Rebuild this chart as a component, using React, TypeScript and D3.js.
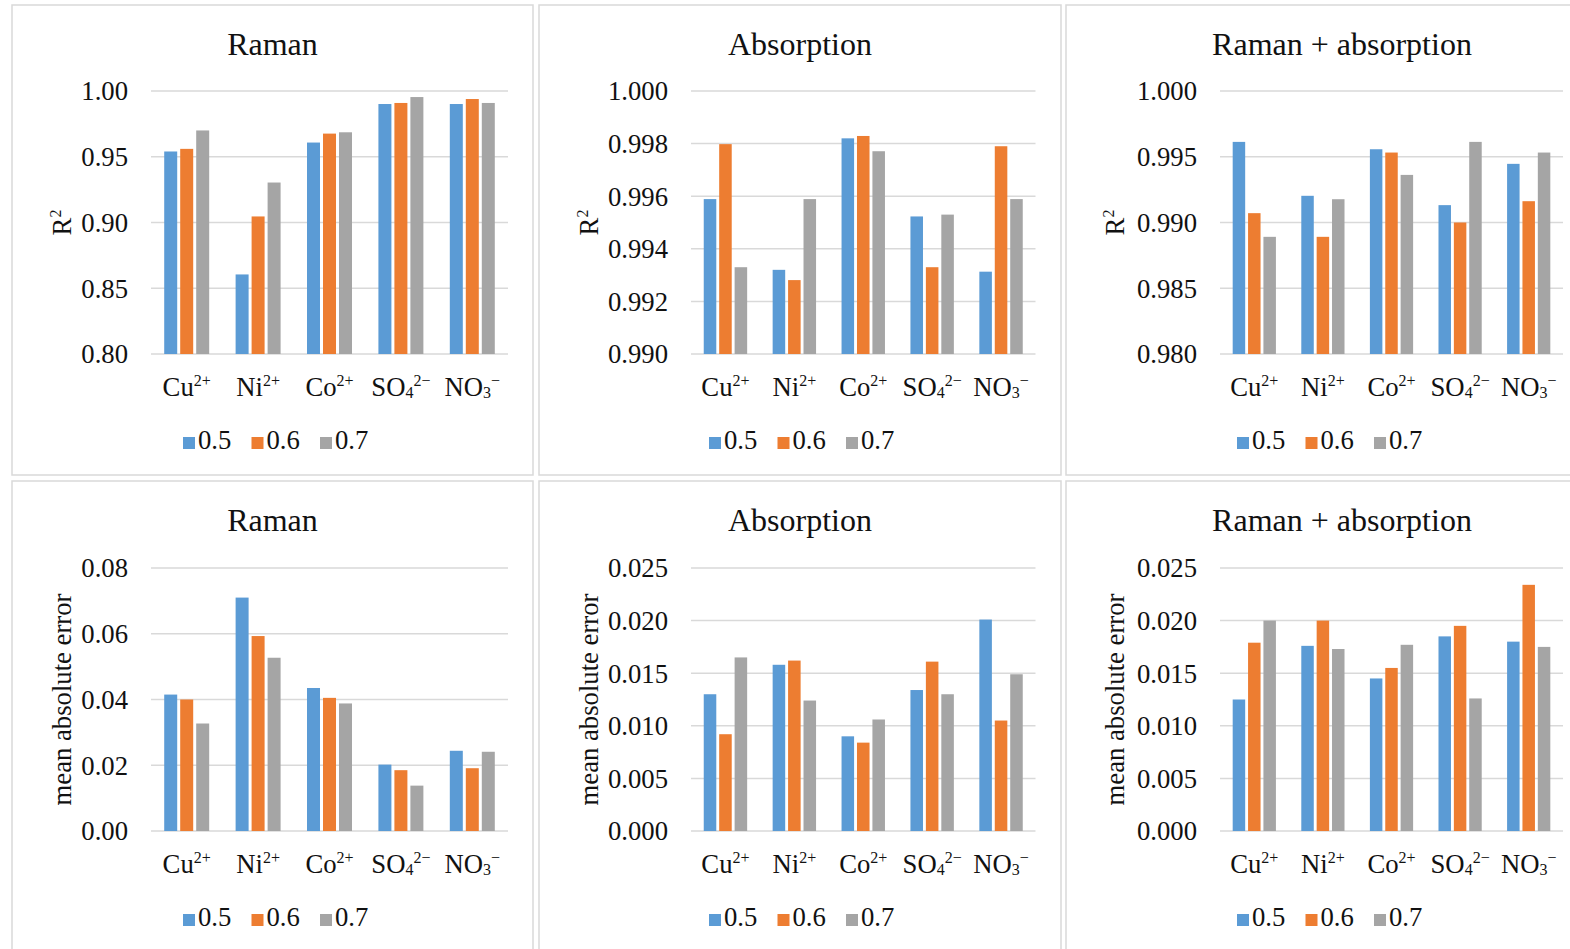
import React from "react";
import * as d3 from "d3";

// ---------- data ----------
const categories = [
  { base: "Cu", sub: "", sup: "2+" },
  { base: "Ni", sub: "", sup: "2+" },
  { base: "Co", sub: "", sup: "2+" },
  { base: "SO", sub: "4", sup: "2−" },
  { base: "NO", sub: "3", sup: "−" },
];
const seriesNames = ["0.5", "0.6", "0.7"];
const panelTitles = ["Raman", "Absorption", "Raman + absorption"];

const ramanR2_05 = [0.954, 0.8605, 0.9608, 0.9901, 0.9901];
const ramanR2_06 = [0.956, 0.9046, 0.9676, 0.9909, 0.9939];
const ramanR2_07 = [0.970, 0.9304, 0.9686, 0.9954, 0.9909];

const absR2_05 = [0.99589, 0.9932, 0.9982, 0.99523, 0.99313];
const absR2_06 = [0.99798, 0.99281, 0.99829, 0.9933, 0.9979];
const absR2_07 = [0.9933, 0.99589, 0.99771, 0.9953, 0.99589];

const combR2_05 = [0.99613, 0.99203, 0.99557, 0.99132, 0.99446];
const combR2_06 = [0.99071, 0.98891, 0.99532, 0.99, 0.99162];
const combR2_07 = [0.98891, 0.99177, 0.99362, 0.99613, 0.99532];

const ramanMAE_05 = [0.0415, 0.071, 0.0435, 0.0202, 0.0244];
const ramanMAE_06 = [0.04, 0.0593, 0.0405, 0.0185, 0.0191];
const ramanMAE_07 = [0.0327, 0.0527, 0.0388, 0.0138, 0.0241];

const absMAE_05 = [0.013, 0.0158, 0.009, 0.0134, 0.0201];
const absMAE_06 = [0.0092, 0.0162, 0.0084, 0.0161, 0.0105];
const absMAE_07 = [0.0165, 0.0124, 0.0106, 0.013, 0.0149];

const combMAE_05 = [0.0125, 0.0176, 0.0145, 0.0185, 0.018];
const combMAE_06 = [0.0179, 0.02, 0.0155, 0.0195, 0.0234];
const combMAE_07 = [0.02, 0.0173, 0.0177, 0.0126, 0.0175];

const yDomains = [
  [[0.8, 1.0], [0.99, 1.0], [0.98, 1.0]],
  [[0, 0.08], [0, 0.025], [0, 0.025]],
];
const yTickSteps = [
  [0.05, 0.002, 0.005],
  [0.02, 0.005, 0.005],
];
const yTickFormats = [
  [".2f", ".3f", ".3f"],
  [".2f", ".3f", ".3f"],
];
const yLabels = ["R2", "mean absolute error"];

const panelData = [
  [
    [ramanR2_05, ramanR2_06, ramanR2_07],
    [absR2_05, absR2_06, absR2_07],
    [combR2_05, combR2_06, combR2_07],
  ],
  [
    [ramanMAE_05, ramanMAE_06, ramanMAE_07],
    [absMAE_05, absMAE_06, absMAE_07],
    [combMAE_05, combMAE_06, combMAE_07],
  ],
];

// ---------- layout / style ----------
const COLORS = ["#5B9BD5", "#ED7D31", "#A5A5A5"];
const GRID = "#D9D9D9";
const BORDER = "#D9D9D9";
const TEXT = "#111";
const FONT = "'Liberation Serif', 'Times New Roman', serif";
const FS = 26.7;

const panelX = [12, 539, 1066];
const panelW = [521, 522, 552];
const rowY = [5, 481];
const panelH = [470, 470];
const plotX = [
  [151, 508],
  [691, 1035.5],
  [1220, 1563],
];
const plotY = [
  [91, 354],
  [568, 831],
];
const legendStart = [183, 709, 1237];
const yLabelX = [59, 59, 58];

function CatLabel({ x, y, c }: any) {
  return (
    <text x={x} y={y} textAnchor="middle" fontSize={FS} fontFamily={FONT} fill={TEXT}>
      {c.base}
      {c.sub ? (
        <tspan fontSize={16} dy={2}>
          {c.sub}
        </tspan>
      ) : null}
      {c.sup ? (
        <tspan fontSize={16} dy={c.sub ? -12 : -10}>
          {c.sup}
        </tspan>
      ) : null}
    </text>
  );
}

function Panel({ row, col }: any) {
  const px = panelX[col];
  const py = rowY[row];
  const [x0, x1] = plotX[col];
  const [yt, yb] = plotY[row];
  const dom = yDomains[row][col];
  const y = d3.scaleLinear().domain(dom).range([yb, yt]);
  const step = yTickSteps[row][col];
  const nT = Math.round((dom[1] - dom[0]) / step);
  const ticks = d3.range(nT + 1).map((i) => dom[0] + i * step);
  const fmt = d3.format(yTickFormats[row][col]);

  const xBand = d3
    .scaleBand<number>()
    .domain(d3.range(categories.length))
    .range([x0, x1])
    .padding(0);
  const bw = xBand.bandwidth();
  const groupW = bw * 0.63;
  const inner = d3
    .scaleBand<number>()
    .domain(d3.range(seriesNames.length))
    .range([(bw - groupW) / 2, (bw + groupW) / 2])
    .paddingInner(0.1875)
    .paddingOuter(0);

  const series = panelData[row][col];
  const ylab = yLabels[row];
  const lx = px + yLabelX[col];
  const ly = (yt + yb) / 2;

  return (
    <g>
      <rect
        x={px}
        y={py}
        width={panelW[col]}
        height={panelH[row]}
        fill="#fff"
        stroke={BORDER}
        strokeWidth={1.5}
      />
      <text
        x={px + panelW[col] / 2}
        y={py + 50}
        textAnchor="middle"
        fontSize={32}
        fontFamily={FONT}
        fill={TEXT}
      >
        {panelTitles[col]}
      </text>
      {ticks.map((t, i) => (
        <g key={i}>
          <line x1={x0} x2={x1} y1={y(t)} y2={y(t)} stroke={GRID} strokeWidth={1.5} />
          <text
            x={x0 - 23}
            y={y(t)}
            dy="0.35em"
            textAnchor="end"
            fontSize={FS}
            fontFamily={FONT}
            fill={TEXT}
          >
            {fmt(t)}
          </text>
        </g>
      ))}
      {series.map((vals: number[], si: number) =>
        vals.map((v, ci) => (
          <rect
            key={si + "-" + ci}
            x={(xBand(ci) as number) + (inner(si) as number)}
            y={y(v)}
            width={inner.bandwidth()}
            height={yb - y(v)}
            fill={COLORS[si]}
          />
        ))
      )}
      {categories.map((c, ci) => (
        <CatLabel key={ci} x={(xBand(ci) as number) + bw / 2} y={yb + 42} c={c} />
      ))}
      <text
        transform={`translate(${lx},${ly}) rotate(-90)`}
        textAnchor="middle"
        fontSize={FS}
        fontFamily={FONT}
        fill={TEXT}
      >
        {ylab === "R2" ? (
          <>
            R<tspan fontSize={16} dy={-10}>2</tspan>
          </>
        ) : (
          ylab
        )}
      </text>
      {seriesNames.map((s, si) => {
        const lx0 = legendStart[col] + si * 68.5;
        return (
          <g key={si}>
            <rect x={lx0} y={yb + 83} width={12} height={12} fill={COLORS[si]} />
            <text
              x={lx0 + 15}
              y={yb + 95}
              fontSize={FS}
              fontFamily={FONT}
              fill={TEXT}
            >
              {s}
            </text>
          </g>
        );
      })}
    </g>
  );
}

export default function App() {
  return (
    <svg
      width={1570}
      height={949}
      style={{ position: "absolute", left: 0, top: 0, background: "#fff" }}
    >
      <rect x={0} y={0} width={1570} height={949} fill="#fff" />
      {[0, 1].map((r) =>
        [0, 1, 2].map((c) => <Panel key={r + "-" + c} row={r} col={c} />)
      )}
    </svg>
  );
}
